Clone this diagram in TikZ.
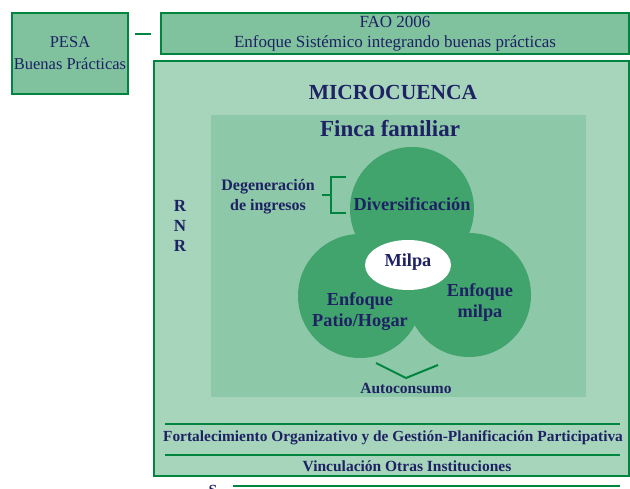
\documentclass[tikz,border=0pt]{standalone}
\usepackage{fontspec}
\setmainfont{Liberation Serif}
\usetikzlibrary{calc,shapes.geometric}
\definecolor{borde}{HTML}{00853F}
\definecolor{verdeA}{HTML}{80C29E}
\definecolor{verdeB}{HTML}{A7D5BB}
\definecolor{verdeC}{HTML}{8DC8A8}
\definecolor{verdeD}{HTML}{41A46C}
\definecolor{tinta}{HTML}{1E2163}

\begin{document}
\begin{tikzpicture}[x=1pt,y=-1pt,
    caja/.style={draw=borde, line width=2pt, text=tinta, align=center, inner sep=0pt},
    circulo/.style={circle, fill=verdeD, minimum size=124pt, inner sep=0pt},
    rotulo/.style={text=tinta, align=center},
    raya/.style={draw=borde, line width=2pt}]
            \useasboundingbox (0,0) rectangle (630,489);
            \node[caja, fill=verdeA, minimum width=116pt, minimum height=81pt, font=\fontsize{16.5}{22}\selectfont] at (70,53.5) (pesa) {PESA\\Buenas Prácticas};
            \node[caja, fill=verdeA, minimum width=468pt, minimum height=41pt, font=\fontsize{17}{20}\selectfont] at (395,33.5) (fao) {FAO 2006\\Enfoque Sistémico integrando buenas prácticas};
            \node[caja, fill=verdeB, minimum width=475pt, minimum height=415pt] at (391.5,268.5) (micro) {};
            \node[fill=verdeC, minimum width=375pt, minimum height=282pt, inner sep=0pt] at (398.5,256) (finca) {};
            \node[circulo] at (412,209) (div) {};
            \node[circulo] at (360,296) (patio) {};
            \node[circulo] at (469,295) (milpac) {};
            \node[ellipse, fill=white, minimum width=86pt, minimum height=50pt, inner sep=0pt] at (408,265) (milpa) {};
            \draw node[rotulo, font=\fontsize{21.5}{24}\selectfont\bfseries] (mic) at (393,92) {MICROCUENCA}
            node[rotulo, font=\fontsize{23}{25}\selectfont\bfseries] (fin) at (390,129) {Finca familiar}
            node[rotulo, font=\fontsize{18.3}{20}\selectfont\bfseries] at (div.center) [yshift=5pt] {Diversificación}
            node[rotulo, font=\fontsize{18.3}{20}\selectfont\bfseries] at (milpa.center) [yshift=3pt] {Milpa}
            node[rotulo, font=\fontsize{18.3}{21}\selectfont\bfseries] at (patio.center) [yshift=-16pt] {Enfoque\\Patio/Hogar}
            node[rotulo, font=\fontsize{18.3}{21}\selectfont\bfseries] at (milpac.center) [yshift=-8pt,xshift=11pt] {Enfoque\\milpa}
            node[rotulo, font=\fontsize{16}{20}\selectfont\bfseries] (deg) at (268,197) {Degeneración\\de ingresos}
            node[rotulo, font=\fontsize{15.5}{17}\selectfont\bfseries] (auto) at (406,388) {Autoconsumo}
            node[rotulo, font=\fontsize{17}{20}\selectfont\bfseries] (rnr) at (180,226) {R\\N\\R}
            node[rotulo, font=\fontsize{15.4}{17}\selectfont\bfseries] (fort) at (393,438) {Fortalecimiento Organizativo y de Gestión-Planificación Participativa}
            node[rotulo, font=\fontsize{15.5}{17}\selectfont\bfseries] (vinc) at (407,466) {Vinculación Otras Instituciones}
            node[rotulo, font=\fontsize{15.5}{17}\selectfont\bfseries] (s) at (213,490) {S}
            ;
            % guiones y llaves
            \coordinate (g1) at (135,34);
            \coordinate (g2) at (151,34);
            \draw[raya] (g1) -- (g2);
            \draw[raya] (346,177) -- (331,177) -- (331,213) -- (346,213)
            (331,195) -- (322,195);
            \draw[raya] (376,363) -- (406,378) -- (438,365);
            \draw[raya] (165,424) -- (620,424)
            (165,455) -- (620,455)
            (233,486) -- (620,486);
        \end{tikzpicture}
\end{document}
